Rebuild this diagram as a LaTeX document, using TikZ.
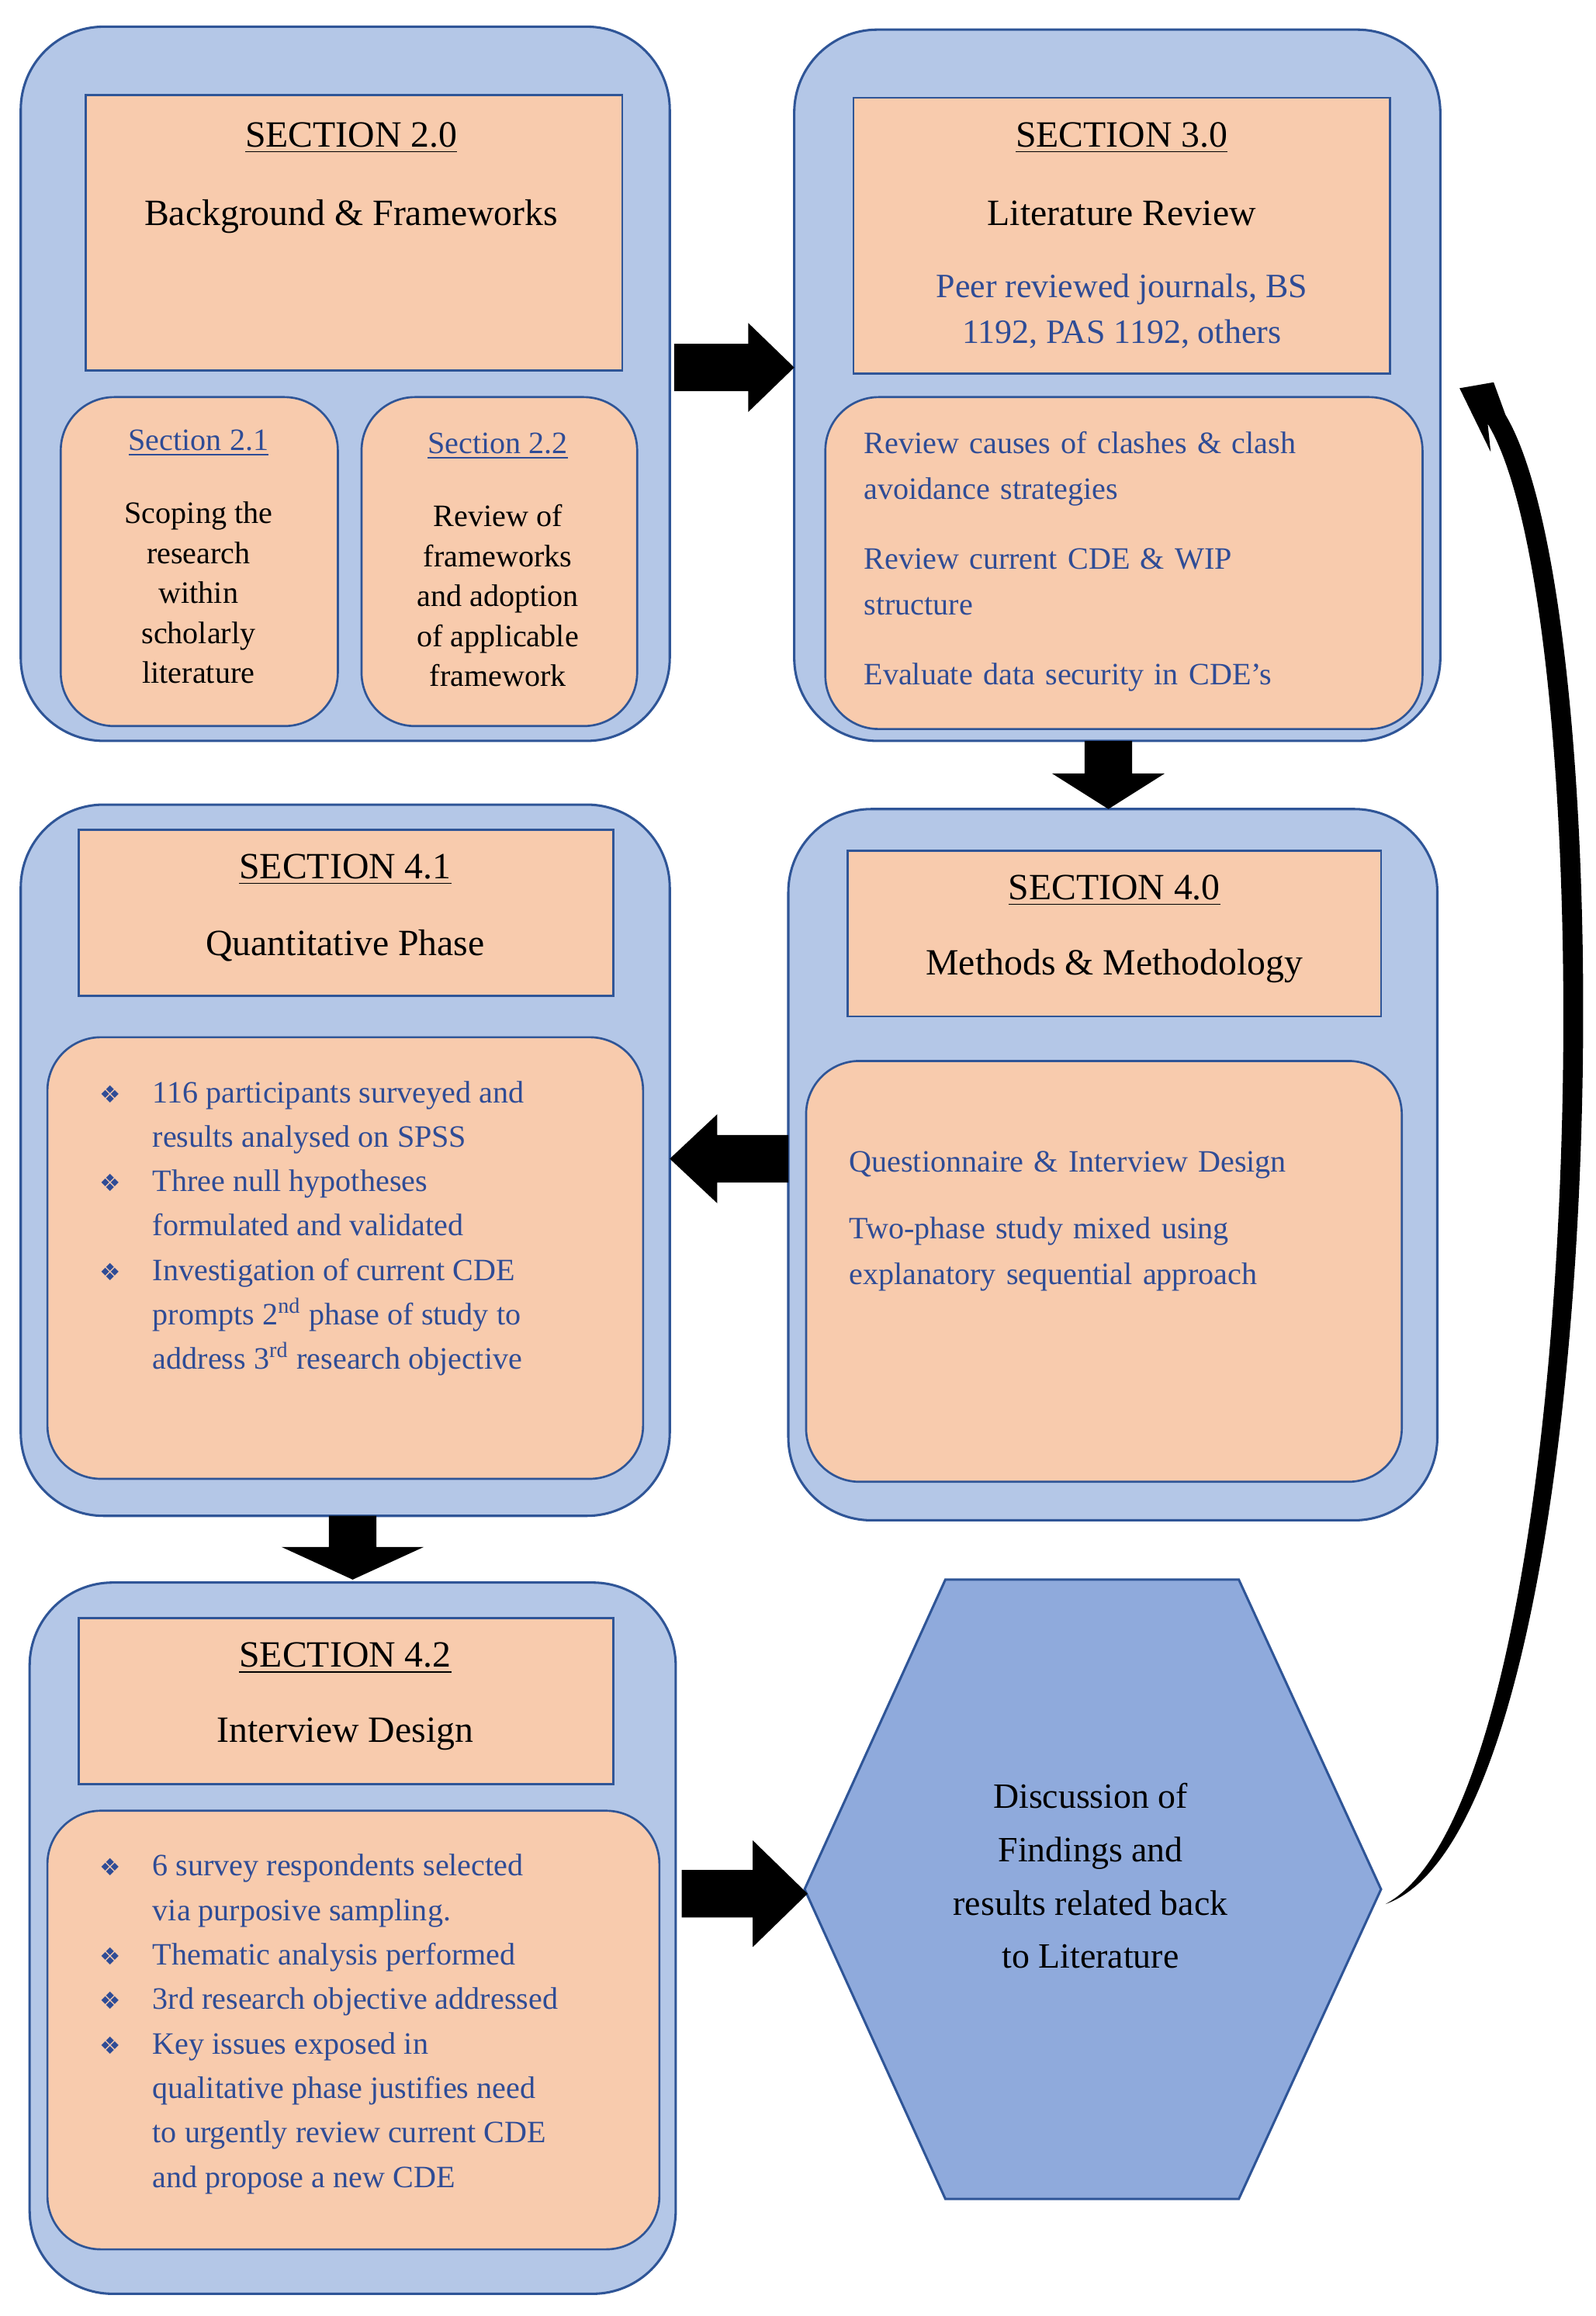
\documentclass[tikz,border=0pt]{standalone}
\usepackage{fontspec}
\setmainfont{Liberation Serif}
\newfontfamily\dv{DejaVu Sans}
\usetikzlibrary{arrows.meta}
\definecolor{outerb}{HTML}{B4C7E7}
\definecolor{edgeb}{HTML}{2F5597}
\definecolor{orng}{HTML}{F8CBAD}
\definecolor{txtb}{HTML}{2F4C96}
\definecolor{hexb}{HTML}{8FAADC}
\newcommand{\bul}{{\dv\fontsize{8}{10}\selectfont ❖}}
\begin{document}
\begin{tikzpicture}[x=0.5pt,y=-0.5pt,
 outer/.style={draw=edgeb,line width=0.8pt,fill=outerb,rounded corners=28pt},
 inrect/.style={draw=edgeb,line width=0.7pt,fill=orng},
 inround/.style={draw=edgeb,line width=0.7pt,fill=orng,rounded corners=18pt},
 ttl/.style={font=\fontsize{12.5}{15}\selectfont,align=center},
 sub/.style={font=\fontsize{10.5}{13.5}\selectfont,align=center},
 blu/.style={text=txtb,font=\fontsize{10.5}{15.5}\selectfont,align=left},
 blt/.style={text=txtb,font=\fontsize{10.5}{15}\selectfont,align=left},
 barrow/.style={fill=black,draw=none}]
\useasboundingbox[fill=white] (0,0) rectangle (1077,1563);
% Box A
\draw[outer] (14,18) rectangle (452,500);
\draw[inrect] (58,64) rectangle (420,250);
\node[ttl] (a) at (237,93) {\underline{SECTION 2.0}};
\node[ttl] (a1) at (237,146) {Background \& Frameworks};
\draw[inround] (41,268) rectangle (228,490);
\draw[inround] (244,268) rectangle (430,490);
\node[ttl,text=txtb,font=\fontsize{10.5}{13}\selectfont] (a21) at (134,299) {\underline{Section 2.1}};
\node[ttl,text=txtb,font=\fontsize{10.5}{13}\selectfont] (a22) at (336,301) {\underline{Section 2.2}};
\node[sub] (a21t) at (134,400) {Scoping the\\research\\within\\scholarly\\literature};
\node[sub] (a22t) at (336,402) {Review of\\frameworks\\and adoption\\of applicable\\framework};
% Box B
\draw[outer] (536,20) rectangle (972,500);
\draw[inrect] (576,66) rectangle (938,252);
\node[ttl] (b) at (757,93) {\underline{SECTION 3.0}};
\node[ttl] (b1) at (757,144) {Literature Review};
\node[ttl,text=txtb,font=\fontsize{11.5}{15.5}\selectfont] (b2) at (757,210) {Peer reviewed journals, BS\\1192, PAS 1192, others};
\draw[inround] (557,268) rectangle (960,492);
\node[blu,anchor=north west,text width=200pt] (b3) at (576,284) {Review causes of clashes \& clash\\avoidance strategies\\[8pt]Review current CDE \& WIP\\structure\\[8pt]Evaluate data security in CDE's};
% Box C
\draw[outer] (532,546) rectangle (970,1026);
\draw[inrect] (572,574) rectangle (932,686);
\node[ttl] (c) at (752,601) {\underline{SECTION 4.0}};
\node[ttl] (c1) at (752,652) {Methods \& Methodology};
\draw[inround] (544,716) rectangle (946,1000);
\node[blu,anchor=north west,text width=200pt] (c2) at (566,770) {Questionnaire \& Interview Design\\[7pt]Two-phase study mixed using\\explanatory sequential approach};
% Box D
\draw[outer] (14,543) rectangle (452,1023);
\draw[inrect] (53,560) rectangle (414,672);
\node[ttl] (d) at (233,587) {\underline{SECTION 4.1}};
\node[ttl] (d1) at (233,638) {Quantitative Phase};
\draw[inround] (32,700) rectangle (434,998);
\node[blt,anchor=north west] (d2) at (60,716) {\begin{tabular}{@{}p{12pt}@{\hspace{6pt}}l@{}}
\bul & 116 participants surveyed and\\ & results analysed on SPSS\\
\bul & Three null hypotheses\\ & formulated and validated\\
\bul & Investigation of current CDE\\ & prompts 2\textsuperscript{nd} phase of study to\\ & address 3\textsuperscript{rd} research objective
\end{tabular}};
% Box E
\draw[outer] (20,1068) rectangle (456,1548);
\draw[inrect] (53,1092) rectangle (414,1204);
\node[ttl] (e) at (233,1119) {\underline{SECTION 4.2}};
\node[ttl] (e1) at (233,1170) {Interview Design};
\draw[inround] (32,1222) rectangle (445,1518);
\node[blt,anchor=north west] (e2) at (60,1238) {\begin{tabular}{@{}p{12pt}@{\hspace{6pt}}l@{}}
\bul & 6 survey respondents selected\\ & via purposive sampling.\\
\bul & Thematic analysis performed\\
\bul & 3rd research objective addressed\\
\bul & Key issues exposed in\\ & qualitative phase justifies need\\ & to urgently review current CDE\\ & and propose a new CDE
\end{tabular}};
% Hexagon
\draw[draw=edgeb,line width=0.8pt,fill=hexb] (638,1066) -- (836,1066) -- (932,1275) -- (836,1484) -- (638,1484) -- (543,1275) -- cycle;
\node[ttl,font=\fontsize{12}{18}\selectfont] (h) at (736,1266) {Discussion of\\Findings and\\results related back\\to Literature};
% Block arrows
\fill[barrow] (455,232) -- (505,232) -- (505,218) -- (536,248) -- (505,278) -- (505,264) -- (455,264) -- cycle;
\fill[barrow] (732,500) -- (764,500) -- (764,522) -- (786,522) -- (748,546) -- (710,522) -- (732,522) -- cycle;
\fill[barrow] (532,766) -- (484,766) -- (484,752) -- (452,782) -- (484,812) -- (484,798) -- (532,798) -- cycle;
\fill[barrow] (222,1023) -- (254,1023) -- (254,1044) -- (286,1044) -- (238,1066) -- (190,1044) -- (222,1044) -- cycle;
\fill[barrow] (460,1262) -- (508,1262) -- (508,1242) -- (545,1278) -- (508,1314) -- (508,1294) -- (460,1294) -- cycle;
% curved arrow
\coordinate (cs) at (935,1285);
\coordinate (ce) at (985,262);
\fill[black] (cs) .. controls (1075,1210) and (1085,420) .. (1004,286) -- (1006,305) -- (ce) -- (1008,258) -- (1016,280) .. controls (1100,420) and (1090,1230) .. (cs);
\end{tikzpicture}
\end{document}
